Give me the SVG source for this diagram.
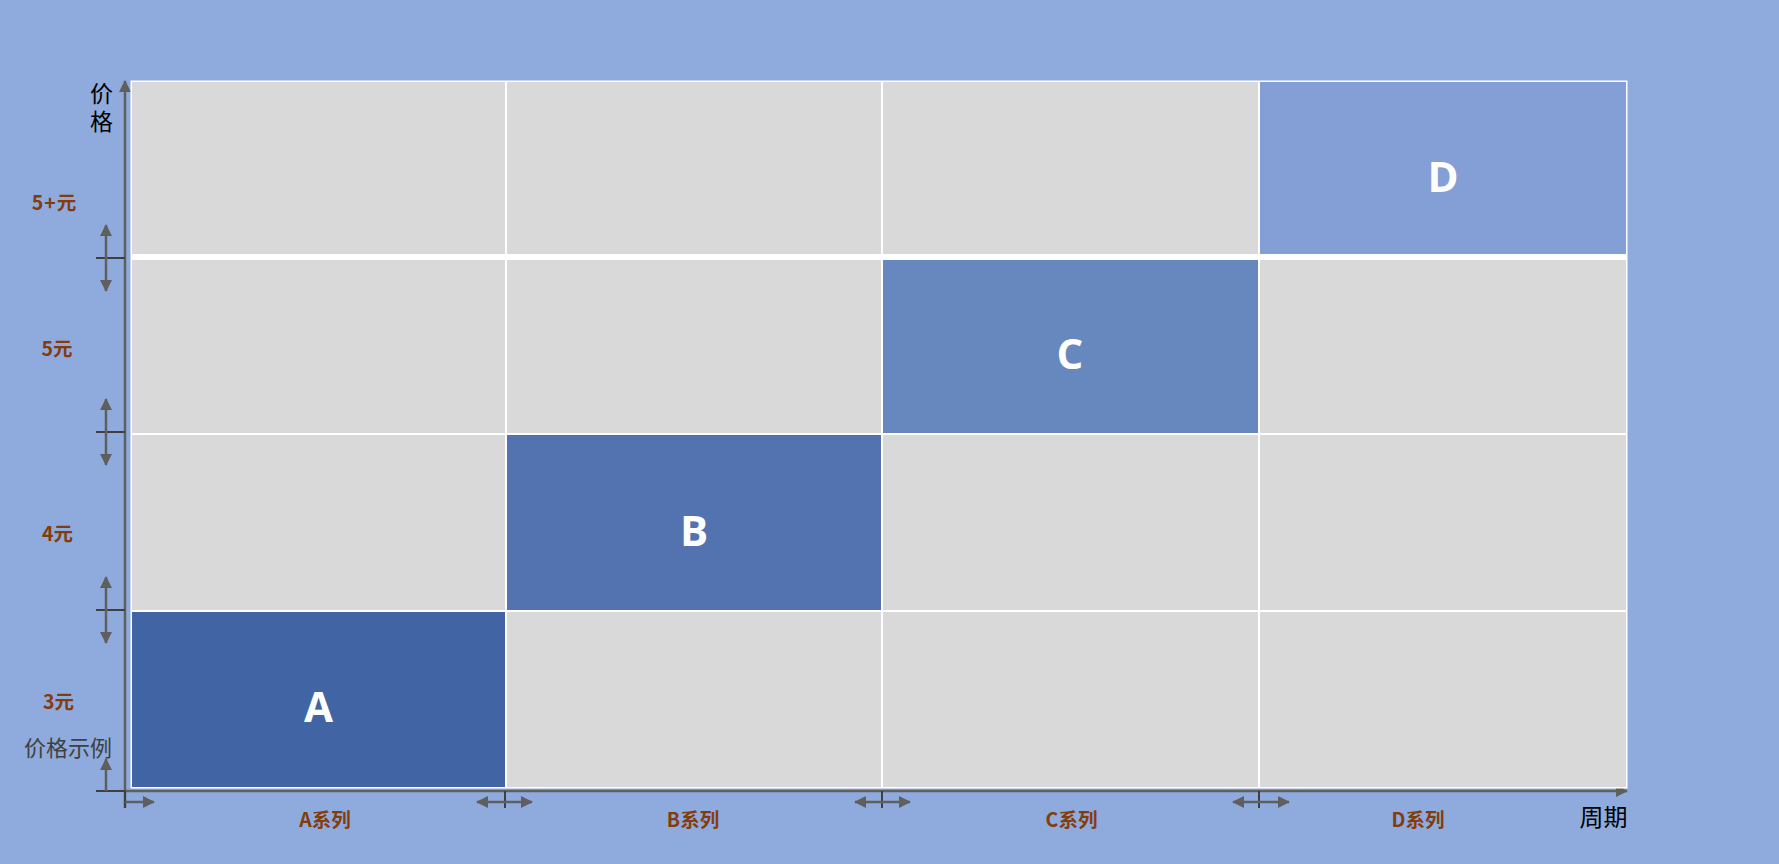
<svg xmlns="http://www.w3.org/2000/svg" width="1779" height="864" viewBox="0 0 1779 864">
  <style>
    .cell { fill: #D9D9D9; }
    .tick { stroke: #3F3F3F; stroke-width: 2; fill: none; }
    .arr { stroke: #5F5F5F; stroke-width: 2.5; fill: none; marker-end: url(#ah); }
    .big { font-family: "Open Sans", "Noto Sans CJK SC", sans-serif; font-weight: bold; font-size: 42px; fill: #FFFFFF; text-anchor: middle; }
    .lab { font-family: "Noto Sans CJK SC", "Noto Sans", sans-serif; font-weight: bold; font-size: 19.5px; fill: #843C0C; text-anchor: middle; dominant-baseline: central; }
    .axt { font-family: "Noto Sans CJK SC", sans-serif; font-size: 24px; fill: #000000; text-anchor: middle; dominant-baseline: central; }
    .vert { font-family: "Noto Sans CJK SC", sans-serif; font-size: 23px; fill: #000000; writing-mode: vertical-rl; letter-spacing: 5px; }
  </style>
  <defs>
    <marker id="ah" viewBox="0 0 12 12" refX="11" refY="6" markerWidth="13" markerHeight="12" markerUnits="userSpaceOnUse" orient="auto">
      <path d="M0,0 L12,6 L0,12 Z" fill="#5F5F5F"/>
    </marker>
  </defs>
  <rect x="0" y="0" width="1779" height="864" fill="#8FABDD"/>

  <g id="connectors">
    <line class="arr" x1="125" y1="808" x2="125" y2="81"/>
    <line class="arr" x1="125" y1="791" x2="1627" y2="791"/>
    <line class="tick" x1="96" y1="258" x2="125" y2="258"/>
    <line class="arr" x1="106" y1="258" x2="106" y2="225"/>
    <line class="arr" x1="106" y1="258" x2="106" y2="291"/>
    <line class="tick" x1="96" y1="432" x2="125" y2="432"/>
    <line class="arr" x1="106" y1="432" x2="106" y2="399"/>
    <line class="arr" x1="106" y1="432" x2="106" y2="465"/>
    <line class="tick" x1="96" y1="610" x2="125" y2="610"/>
    <line class="arr" x1="106" y1="610" x2="106" y2="577"/>
    <line class="arr" x1="106" y1="610" x2="106" y2="643"/>
    <line class="tick" x1="96" y1="791" x2="125" y2="791"/>
    <line class="arr" x1="106" y1="791" x2="106" y2="759"/>
    <line class="tick" x1="125" y1="791" x2="125" y2="808"/>
    <line class="arr" x1="125" y1="802" x2="154" y2="802"/>
    <line class="tick" x1="505" y1="791" x2="505" y2="808"/>
    <line class="arr" x1="505" y1="802" x2="477" y2="802"/>
    <line class="arr" x1="505" y1="802" x2="532" y2="802"/>
    <line class="tick" x1="882" y1="791" x2="882" y2="808"/>
    <line class="arr" x1="882" y1="802" x2="855" y2="802"/>
    <line class="arr" x1="882" y1="802" x2="910" y2="802"/>
    <line class="tick" x1="1259" y1="791" x2="1259" y2="808"/>
    <line class="arr" x1="1259" y1="802" x2="1233" y2="802"/>
    <line class="arr" x1="1259" y1="802" x2="1289" y2="802"/>
  </g>

  <g id="grid">
    <rect x="130.5" y="80.5" width="1497" height="708" fill="#FFFFFF"/>
    <rect class="cell" x="132" y="82" width="373" height="172"/>
    <rect class="cell" x="507" y="82" width="374" height="172"/>
    <rect class="cell" x="883" y="82" width="375" height="172"/>
    <rect class="cell" x="132" y="260" width="373" height="173"/>
    <rect class="cell" x="507" y="260" width="374" height="173"/>
    <rect class="cell" x="1260" y="260" width="366" height="173"/>
    <rect class="cell" x="132" y="435" width="373" height="175"/>
    <rect class="cell" x="883" y="435" width="375" height="175"/>
    <rect class="cell" x="1260" y="435" width="366" height="175"/>
    <rect class="cell" x="507" y="612" width="374" height="175"/>
    <rect class="cell" x="883" y="612" width="375" height="175"/>
    <rect class="cell" x="1260" y="612" width="366" height="175"/>
  </g>

  <g id="nodeA">
    <rect x="132" y="612" width="373" height="175" fill="#4164A4"/>
    <text class="big" x="318.5" y="722">A</text>
  </g>
  <g id="nodeB">
    <rect x="507" y="435" width="374" height="175" fill="#5273B0"/>
    <text class="big" x="694" y="546">B</text>
  </g>
  <g id="nodeC">
    <rect x="883" y="260" width="375" height="173" fill="#6788BE"/>
    <text class="big" x="1070" y="369">C</text>
  </g>
  <g id="nodeD">
    <rect x="1260" y="82" width="366" height="172" fill="#839FD5"/>
    <text class="big" x="1443" y="192">D</text>
  </g>

  <g id="labels">
    <text class="vert" x="101.5" y="82">价格</text>
    <text class="axt" x="1603.5" y="815">周期</text>
    <text class="axt" x="68" y="746" style="font-size:22px;fill:#404040">价格示例</text>
    <text class="lab" x="54.5" y="201" style="letter-spacing:1px">5+元</text>
    <text class="lab" x="57" y="347">5元</text>
    <text class="lab" x="57.5" y="532">4元</text>
    <text class="lab" x="58.5" y="700">3元</text>
    <text class="lab" x="325" y="818">A系列</text>
    <text class="lab" x="693" y="818">B系列</text>
    <text class="lab" x="1071.5" y="818">C系列</text>
    <text class="lab" x="1418" y="818">D系列</text>
  </g>
</svg>
